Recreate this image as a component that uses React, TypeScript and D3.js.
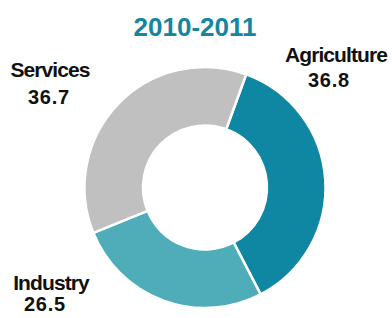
import React from "react";
import * as d3 from "d3";

const title = "2010-2011";
const categories = ["Agriculture", "Industry", "Services"];
const values = [36.8, 26.5, 36.7];
const colors = ["#0f86a2", "#4fadba", "#c0c0c0"];
const labelPos: [number, number][] = [
  [336, 62],
  [51, 290],
  [50, 77],
];
const valuePos: [number, number][] = [
  [329, 87],
  [45, 311],
  [49, 104],
];

export default function App() {
  const W = 392, H = 318;
  const cx = 205, cy = 187.5, R = 120.5, r = 62;
  const startDeg = 20;
  const pie = d3
    .pie<number>()
    .sort(null)
    .startAngle((startDeg * Math.PI) / 180)
    .endAngle((startDeg * Math.PI) / 180 + 2 * Math.PI)(values);
  const arc = d3.arc<d3.PieArcDatum<number>>().innerRadius(r).outerRadius(R);
  const font = "'Liberation Sans', Arial, sans-serif";
  return (
    <svg width={W} height={H} style={{ position: "absolute", left: 0, top: 0 }}>
      <rect width={W} height={H} fill="#fff" />
      <text x={195} y={36} textAnchor="middle" fontFamily={font} fontWeight="bold" fontSize={26} fill="#1585a0">
        {title}
      </text>
      <g transform={`translate(${cx},${cy})`}>
        {pie.map((d, i) => (
          <path key={i} d={arc(d) || ""} fill={colors[i]} stroke="#fff" strokeWidth={2.5} />
        ))}
      </g>
      {categories.map((c, i) => (
        <g key={c} fontFamily={font} fontWeight="bold" fill="#111">
          <text x={labelPos[i][0]} y={labelPos[i][1]} textAnchor="middle" fontSize={21} letterSpacing={-0.9}>
            {c}
          </text>
          <text x={valuePos[i][0]} y={valuePos[i][1]} textAnchor="middle" fontSize={20} letterSpacing={0.8}>
            {values[i].toFixed(1)}
          </text>
        </g>
      ))}
    </svg>
  );
}
